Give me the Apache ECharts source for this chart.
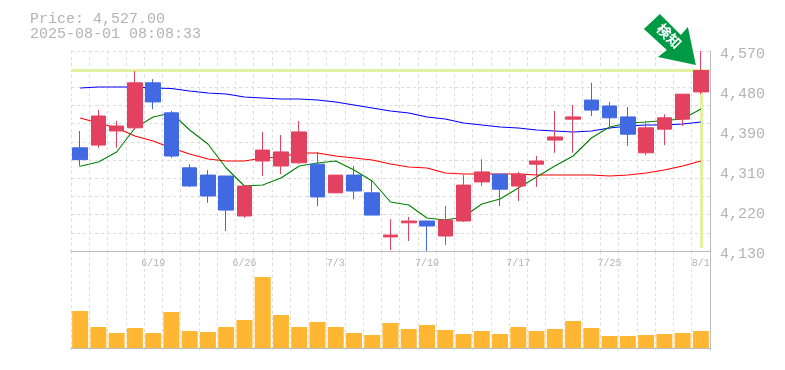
<!DOCTYPE html>
<html><head><meta charset="utf-8">
<script src="https://cdn.jsdelivr.net/npm/echarts@6/dist/echarts.min.js"></script>
<style>html,body{margin:0;padding:0;background:#fff}#c{width:785px;height:370px}</style>
</head><body><div id="c"></div>
<script>
const categories = ['6/13','6/16','6/17','6/18','6/19','6/20','6/23','6/24','6/25','6/26','6/27','6/30','7/1','7/2','7/3','7/4','7/7','7/8','7/9','7/10','7/11','7/14','7/15','7/16','7/17','7/18','7/22','7/23','7/24','7/25','7/28','7/29','7/30','7/31','8/1'];
const shownDates = ['6/19','6/26','7/3','7/10','7/17','7/25','8/1'];
const opens = [4357,4363,4394,4401,4500,4434,4313,4297,4295,4207,4328,4317,4324,4321,4258,4297,4258,4161,4192,4196,4163,4196,4282,4299,4273,4321,4374,4420,4462,4449,4425,4346,4398,4420,4480];
const closes = [4331,4427,4405,4500,4458,4339,4273,4251,4220,4273,4352,4348,4392,4249,4297,4262,4209,4165,4196,4185,4198,4275,4304,4266,4299,4328,4381,4425,4440,4423,4387,4401,4423,4475,4527];
const lows = [4316,4357,4357,4397,4442,4335,4271,4236,4174,4203,4295,4299,4322,4229,4258,4244,4209,4132,4152,4130,4143,4194,4273,4229,4240,4271,4346,4346,4427,4398,4361,4341,4363,4405,4475];
const highs = [4394,4440,4416,4526,4508,4438,4321,4308,4295,4273,4392,4385,4416,4348,4297,4317,4284,4200,4205,4196,4229,4297,4332,4299,4304,4339,4438,4451,4500,4458,4447,4416,4431,4475,4570];
const maShort = [4316.3,4325.8,4347.8,4400.6,4424.8,4433.6,4396.2,4365.4,4312.6,4273,4275.2,4290.6,4317,4323.6,4328,4308.2,4284,4237.8,4231.2,4202.6,4198.2,4204.8,4233.4,4244.4,4268.6,4292.8,4317,4339,4378.6,4402.8,4411.6,4413.8,4417,4420.4,4442.4];
const maMid = [4422.6,4411.6,4400.6,4383,4372,4356.6,4343.4,4332.4,4328,4328,4334.6,4336.8,4345.6,4345.6,4339,4334.6,4330.2,4321.4,4314.8,4312.6,4301.6,4299.4,4299.4,4299.4,4299.4,4297.2,4297.2,4297.2,4297.2,4295,4297.2,4301.6,4308.2,4317,4328];
const maLong = [4488.6,4490.8,4490.8,4490.8,4488.6,4487.5,4482,4477.6,4475.4,4468.8,4466.6,4464.4,4464.4,4462.2,4457.8,4451.2,4444.6,4438,4433.6,4424.8,4420.4,4411.6,4407.2,4402.8,4400.6,4396.2,4394,4391.8,4394,4400.6,4405,4407.2,4407.2,4409.4,4413.8];
const volumes = [37,21,15,20,15,36,17,16,21,28,71,33,21,26,21,15,13,25,19,23,18,14,17,14,21,17,19,27,20,12,12,13,14,15,17];
const tickValues = [4570,4482,4394,4306,4218,4130];
const tickLabels = ['4,570','4,480','4,390','4,310','4,220','4,130'];
const priceText = 'Price: 4,527.00';
const stampText = '2025-08-01 08:08:33';
const lastPrice = 4527;
const signalText = '検知';

const MONO = '"Liberation Mono", monospace';
const GRAY = '#b4b4b4', AXIS = '#bbbbbb', GRID = '#dddddd', RED = '#e2425f', BLUE = '#4169e1', HILITE = '#e0f2a0';
const last = categories[categories.length - 1];
const arrow = 'path://M16,0 L0,15 L23,36 L14,43 L52,51 L44,13 L37,21 Z';

const chart = echarts.init(document.getElementById('c'), null, {renderer: 'canvas'});
chart.setOption({
  animation: false,
  backgroundColor: '#fff',
  title: {left: 25, top: 7, text: priceText + '\n' + stampText,
    textStyle: {fontFamily: MONO, fontSize: 15, lineHeight: 15, fontWeight: 'normal', color: GRAY}},
  grid: [
    {left: 71, top: 51, width: 639, height: 200},
    {left: 71, top: 251, width: 639, height: 99}
  ],
  xAxis: [
    {type: 'category', gridIndex: 0, data: categories, boundaryGap: true,
      axisLine: {lineStyle: {color: AXIS, width: 1}}, axisTick: {show: false},
      splitLine: {show: true, interval: 0, lineStyle: {color: GRID, type: [3, 3]}},
      axisLabel: {show: true, margin: 7, fontFamily: MONO, fontSize: 10, color: GRAY,
        interval: (i, v) => shownDates.includes(v), hideOverlap: false}},
    {type: 'category', gridIndex: 1, data: categories, boundaryGap: true,
      axisLine: {lineStyle: {color: AXIS, width: 1}}, axisTick: {show: false},
      splitLine: {show: true, interval: 0, lineStyle: {color: GRID, type: [3, 3]}},
      axisLabel: {show: false}}
  ],
  yAxis: [
    {type: 'value', gridIndex: 0, position: 'right', min: 4130, max: 4570, interval: 40, scale: true,
      axisLine: {show: true, lineStyle: {color: AXIS}}, axisTick: {show: false},
      splitLine: {show: true, lineStyle: {color: GRID, type: [3, 3]}},
      axisLabel: {show: true, customValues: tickValues, margin: 10, fontFamily: MONO, fontSize: 15, color: GRAY,
        verticalAlign: 'top', lineHeight: 6, alignMinLabel: 'top', alignMaxLabel: 'top',
        formatter: v => tickLabels[tickValues.indexOf(v)]}},
    {type: 'value', gridIndex: 1, position: 'right', min: -2, max: 97,
      axisLine: {show: true, lineStyle: {color: AXIS}}, axisTick: {show: false},
      splitLine: {show: false}, axisLabel: {show: false}}
  ],
  series: [
    {type: 'line', name: 'highlight', xAxisIndex: 0, yAxisIndex: 0, data: [], z: 1, silent: true,
      markLine: {silent: true, symbol: 'none', label: {show: false}, animation: false, z: 1,
        lineStyle: {color: HILITE, width: 3, type: 'solid'},
        data: [
          {yAxis: lastPrice},
          [{xAxis: last, yAxis: lastPrice}, {xAxis: last, yAxis: 4137}]
        ]}},
    {type: 'line', name: 'MA long', data: maLong, xAxisIndex: 0, yAxisIndex: 0, z: 2, symbol: 'none', lineStyle: {color: '#0000ff', width: 1.1}},
    {type: 'line', name: 'MA mid', data: maMid, xAxisIndex: 0, yAxisIndex: 0, z: 2, symbol: 'none', lineStyle: {color: '#ff0000', width: 1.1}},
    {type: 'line', name: 'MA short', data: maShort, xAxisIndex: 0, yAxisIndex: 0, z: 2, symbol: 'none', lineStyle: {color: '#008000', width: 1.1}},
    {type: 'candlestick', name: 'Price', xAxisIndex: 0, yAxisIndex: 0, z: 3, barWidth: 15,
      data: categories.map((_, i) => [opens[i], closes[i], lows[i], highs[i]]),
      itemStyle: {color: RED, color0: BLUE, borderColor: RED, borderColor0: BLUE, borderWidth: 1},
      markPoint: {silent: true, animation: false, z: 5,
        data: [{coord: [last, lastPrice], symbol: arrow, symbolSize: [52, 51], symbolKeepAspect: false, symbolOffset: [-31, -31],
          itemStyle: {color: '#009944'},
          label: {show: true, formatter: signalText, position: 'inside', offset: [-3, -2], rotate: -45,
            color: '#fff', fontSize: 14, fontWeight: 'bold', fontFamily: '"Noto Sans CJK JP", sans-serif'}}]}},
    {type: 'bar', name: 'Volume', xAxisIndex: 1, yAxisIndex: 1, data: volumes, barWidth: 16, itemStyle: {color: '#ffb733'}}
  ]
});
</script></body></html>
